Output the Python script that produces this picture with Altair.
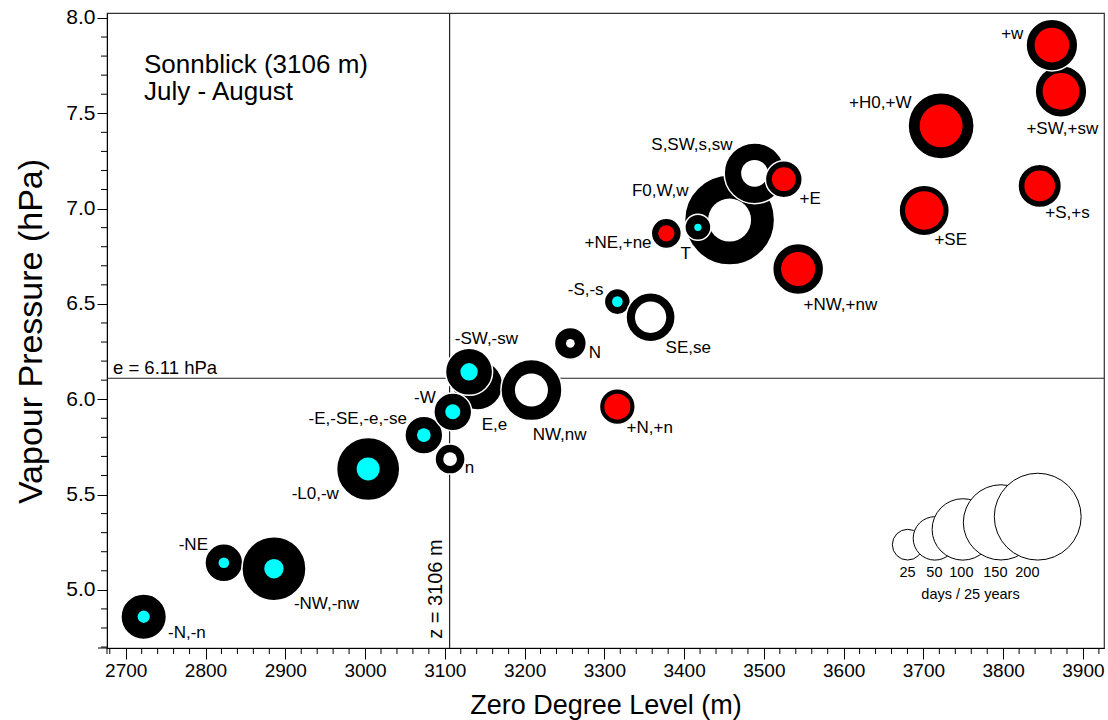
import altair as alt
import pandas as pd

# ---------------- data ----------------
names = ["-N,-n", "-NE", "-NW,-nw", "-L0,-w", "-E,-SE,-e,-se", "E,e", "n", "-W", "-SW,-sw",
         "NW,nw", "N", "-S,-s", "SE,se", "+N,+n", "+NE,+ne", "F0,W,w", "T", "S,SW,s,sw",
         "+E", "+NW,+nw", "+H0,+W", "+SE", "+S,+s", "+SW,+sw", "+w"]
zero_level = [2722.5, 2823.0, 2885.8, 3003.9, 3073.7, 3141.3, 3106.6, 3110.0, 3130.4,
              3208.6, 3257.4, 3316.3, 3358.0, 3316.3, 3377.7, 3457.0, 3417.3, 3488.3,
              3525.0, 3543.0, 3722.2, 3701.0, 3845.8, 3872.5, 3861.1]
vapour = [4.859, 5.142, 5.111, 5.634, 5.812, 6.075, 5.686, 5.934, 6.144,
          6.048, 6.293, 6.512, 6.430, 5.961, 6.870, 6.940, 6.902, 7.185,
          7.154, 6.683, 7.434, 6.990, 7.119, 7.615, 7.858]
days = [55, 38, 109, 106, 38, 66, 24, 38, 59,
        99, 27, 18, 64, 34, 24, 215, 18, 98,
        36, 69, 116, 67, 50, 71, 71]
core_days = [4, 3, 10, 14, 5, 5, 5, 6, 8,
             29, 2, 3, 26, 18, 7, 49, 1.4, 19,
             15, 31, 49, 39, 25, 36, 32]
core_kind = ["cold", "cold", "cold", "cold", "cold", "neutral", "neutral", "cold", "cold",
             "neutral", "neutral", "cold", "neutral", "warm", "warm", "neutral", "cold", "neutral",
             "warm", "warm", "warm", "warm", "warm", "warm", "warm"]

label_x = [2753.0, 2803.1, 2910.8, 2967.2, 3052.4, 3146.3, 3125.0, 3088.7, 3112.5,
           3210.2, 3280.3, 3299.1, 3376.8, 3327.9, 3359.2, 3405.6, 3395.6, 3460.7,
           3544.7, 3549.7, 3685.0, 3713.8, 3852.8, 3829.1, 3825.3]
label_y = [4.773, 5.235, 4.926, 5.503, 5.896, 5.865, 5.639, 6.006, 6.316,
           5.812, 6.242, 6.573, 6.269, 5.849, 6.820, 7.092, 6.762, 7.334,
           7.050, 6.494, 7.554, 6.835, 6.977, 7.418, 7.916]
label_side = ["L", "R", "L", "R", "R", "L", "L", "R", "L",
              "L", "L", "R", "L", "L", "R", "R", "L", "R",
              "L", "L", "R", "L", "L", "L", "R"]

legend_days = [25, 50, 100, 150, 200]
legend_x = [3680.3, 3714.4, 3749.4, 3797.2, 3843.3]
legend_y = [5.237, 5.270, 5.317, 5.354, 5.384]
legend_label_x = [3680.0, 3713.8, 3747.6, 3790.2, 3830.3]
legend_label_y = 5.088
legend_caption = "days / 25 years"

x_ticks = list(range(2700, 3901, 100))
x_minor = [v for v in range(2680, 3921, 20) if v % 100 != 0]
y_ticks = [5.0, 5.5, 6.0, 6.5, 7.0, 7.5, 8.0]
y_minor = [round(4.7 + 0.1 * i, 1) for i in range(34) if round((4.7 + 0.1 * i) * 10) % 5 != 0]

ref_level = 3106
ref_vapour = 6.11

# ---------------- styling ----------------
FONT = "Liberation Sans, Arial, Helvetica"
W, H = 997, 635

xscale = alt.Scale(domain=[2676.5, 3926.4], nice=False, zero=False)
yscale = alt.Scale(domain=[4.695, 8.026], nice=False, zero=False)
# Vega circle: diameter = sqrt(size); diameter 30.7 px for 25 days
sscale = alt.Scale(type="linear", domain=[0, 200], range=[0, 7540])

colours = {"cold": "#00FFFF", "warm": "#FF0000", "neutral": "#FFFFFF"}

rows = []
for i, n in enumerate(names):
    rows.append(dict(name=n, x=zero_level[i], y=vapour[i], d=days[i],
                     fill="#000000", line="#FFFFFF", lw=1.5, z=2 * i))
    rows.append(dict(name=n, x=zero_level[i], y=vapour[i], d=core_days[i],
                     fill=colours[core_kind[i]], line=colours[core_kind[i]], lw=0, z=2 * i + 1))
bub = pd.DataFrame(rows)

lab = pd.DataFrame(dict(name=names, lx=label_x, ly=label_y, side=label_side))
leg = pd.DataFrame(dict(d=legend_days, x=legend_x, y=legend_y, lx=legend_label_x,
                        ly=[legend_label_y] * len(legend_days),
                        t=[str(v) for v in legend_days]))

xaxis = alt.Axis(values=x_ticks, format="d", tickSize=11, tickColor="black", domainColor="black",
                 labelFont=FONT, labelFontSize=19, labelColor="black", labelPadding=2,
                 labelFlush=False, grid=False,
                 title="Zero Degree Level (m)", titleFont=FONT, titleFontSize=27,
                 titleFontWeight="normal", titleColor="black", titleY=57, titleBaseline="middle")
yaxis = alt.Axis(values=y_ticks, format=".1f", tickSize=10, tickColor="black", domainColor="black",
                 labelFont=FONT, labelFontSize=21, labelColor="black", labelPadding=2,
                 labelFlush=False, grid=False,
                 title="Vapour Pressure (hPa)", titleFont=FONT, titleFontSize=34,
                 titleFontWeight="normal", titleColor="black", titleX=-76, titleY=318,
                 titleAngle=270, titleAlign="center", titleBaseline="middle")


def X(f):
    return alt.X(f, scale=xscale, axis=xaxis)


def Y(f):
    return alt.Y(f, scale=yscale, axis=yaxis)


vline = alt.Chart(pd.DataFrame({"v": [ref_level]})).mark_rule(color="#222", strokeWidth=1.2).encode(
    x=X("v:Q"))
hline = alt.Chart(pd.DataFrame({"v": [ref_vapour]})).mark_rule(color="#222", strokeWidth=1.2).encode(
    y=Y("v:Q"))

bubbles = alt.Chart(bub).mark_circle(opacity=1, fillOpacity=1).encode(
    x=X("x:Q"), y=Y("y:Q"),
    size=alt.Size("d:Q", scale=sscale, legend=None),
    color=alt.Color("fill:N", scale=None),
    stroke=alt.Stroke("line:N", scale=None),
    strokeWidth=alt.StrokeWidth("lw:Q", scale=None),
    order=alt.Order("z:Q"),
)

lab_left = alt.Chart(lab).transform_filter("datum.side == 'L'").mark_text(
    align="left", baseline="middle", font=FONT, fontSize=17, color="black").encode(
    x=X("lx:Q"), y=Y("ly:Q"), text="name:N")
lab_right = alt.Chart(lab).transform_filter("datum.side == 'R'").mark_text(
    align="right", baseline="middle", font=FONT, fontSize=17, color="black").encode(
    x=X("lx:Q"), y=Y("ly:Q"), text="name:N")

leg_circles = alt.Chart(leg).mark_circle(opacity=1, fill="white", stroke="black", strokeWidth=1).encode(
    x=X("x:Q"), y=Y("y:Q"), size=alt.Size("d:Q", scale=sscale, legend=None),
    order=alt.Order("d:Q"))
leg_text = alt.Chart(leg).mark_text(align="center", baseline="middle", font=FONT,
                                    fontSize=14.5, color="black").encode(
    x=X("lx:Q"), y=Y("ly:Q"), text="t:N")
leg_caption = alt.Chart(pd.DataFrame({"t": [legend_caption], "x": [3759.0], "y": [4.973]})).mark_text(
    align="center", baseline="middle", font=FONT, fontSize=14.5, color="black").encode(
    x=X("x:Q"), y=Y("y:Q"), text="t:N")

title1 = alt.Chart(pd.DataFrame({"t": ["Sonnblick (3106 m)"]})).mark_text(
    align="left", baseline="alphabetic", font=FONT, fontSize=26, color="black").encode(
    x=alt.value(37), y=alt.value(60), text="t:N")
title2 = alt.Chart(pd.DataFrame({"t": ["July - August"]})).mark_text(
    align="left", baseline="alphabetic", font=FONT, fontSize=26, color="black").encode(
    x=alt.value(37), y=alt.value(87), text="t:N")

e_text = alt.Chart(pd.DataFrame({"t": ["e = 6.11 hPa"], "v": [ref_vapour]})).mark_text(
    align="left", baseline="alphabetic", font=FONT, fontSize=18.5, color="black", dy=-4).encode(
    x=alt.value(6), y=Y("v:Q"), text="t:N")
z_text = alt.Chart(pd.DataFrame({"t": ["z = 3106 m"], "v": [ref_level], "y": [5.004]})).mark_text(
    align="center", baseline="bottom", angle=270, font=FONT, fontSize=20, color="black", dy=-4).encode(
    x=X("v:Q"), y=Y("y:Q"), text="t:N")

xminor = alt.Chart(pd.DataFrame({"v": x_minor})).mark_rule(color="black").encode(
    x=X("v:Q"), y=alt.value(H), y2=alt.value(H + 6))
yminor = alt.Chart(pd.DataFrame({"v": y_minor})).mark_rule(color="black").encode(
    y=Y("v:Q"), x=alt.value(-6), x2=alt.value(0))
stub_x = alt.Chart(pd.DataFrame({"a": [0]})).mark_rule(color="black").encode(
    x=alt.value(-9), x2=alt.value(0), y=alt.value(H))
stub_y = alt.Chart(pd.DataFrame({"a": [0]})).mark_rule(color="black").encode(
    x=alt.value(0), y=alt.value(H), y2=alt.value(H + 6))

chart = alt.layer(
    vline, hline, bubbles, lab_left, lab_right, leg_circles, leg_text, leg_caption,
    title1, title2, e_text, z_text, xminor, yminor, stub_x, stub_y
).properties(
    width=W, height=H,
    padding={"left": 107, "top": 13, "right": 4, "bottom": 72},
    autosize=alt.AutoSizeParams(type="none"),
    background="white",
).configure_view(stroke="#333", strokeWidth=1.2)

chart.save("out.html", embed_options={"renderer": "svg", "actions": False})
